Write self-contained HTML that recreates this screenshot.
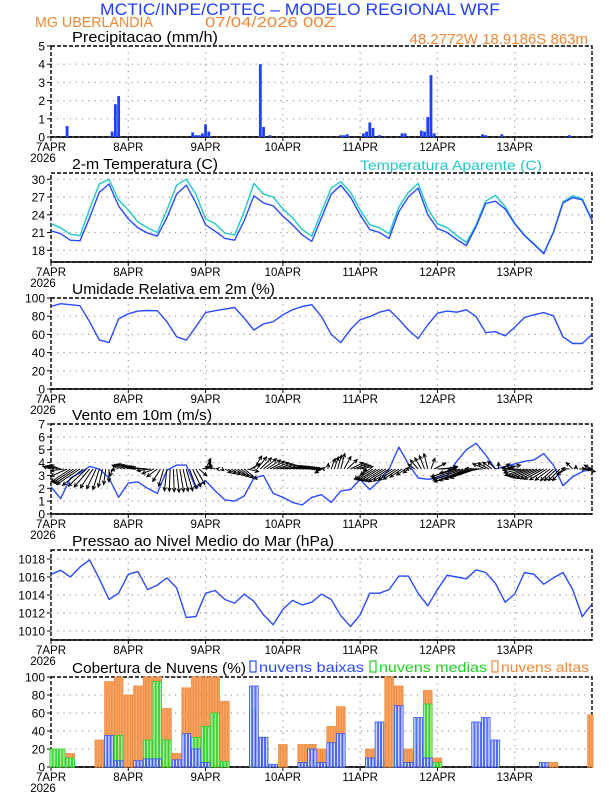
<!DOCTYPE html>
<html><head><meta charset="utf-8"><style>
html,body{margin:0;padding:0;background:#fff}
svg{display:block}
text{font-family:"Liberation Sans",sans-serif}
</style></head><body>
<svg id="chart" width="612" height="792" viewBox="0 0 612 792" xmlns="http://www.w3.org/2000/svg">
<text x="300" y="15" font-size="17" fill="#2040ff" text-anchor="middle" textLength="400" lengthAdjust="spacingAndGlyphs">MCTIC/INPE/CPTEC – MODELO REGIONAL WRF</text>
<text x="35" y="27" font-size="15" fill="#f08838" textLength="118" lengthAdjust="spacingAndGlyphs">MG UBERLANDIA</text>
<text x="205" y="27" font-size="15" fill="#f08838" textLength="130" lengthAdjust="spacingAndGlyphs">07/04/2026 00Z</text>
<text x="588" y="44" font-size="15" fill="#f08838" text-anchor="end">48.2772W 18.9186S 863m</text>
<text x="360" y="170" font-size="14" fill="#20c8c8" textLength="182" lengthAdjust="spacingAndGlyphs">Temperatura Aparente (C)</text>
<g id="plots"></g>
</svg>
<script>
const days=['7APR','8APR','9APR','10APR','11APR','12APR','13APR'];
const precipHours=[5,19,20,21,44,45,46,47,48,49,65,66,68,90,91,92,97,98,99,100,102,109,110,115,116,117,118,119,134,135,140,161];
const precipValues=[0.6,0.3,1.8,2.25,0.25,0.1,0.1,0.2,0.7,0.3,4.0,0.55,0.1,0.1,0.1,0.15,0.2,0.3,0.8,0.5,0.1,0.2,0.2,0.35,0.3,1.1,3.4,0.2,0.15,0.1,0.15,0.1];
const tempValues=[21.3,20.8,19.7,19.6,23.5,27.8,29.2,25.5,23.3,21.8,20.9,20.4,23.5,27.5,29.0,26.0,22.3,21.2,20.0,19.7,23.0,27.2,26.0,25.5,23.8,22.3,20.6,19.5,23.5,27.5,29.0,27.0,24.0,21.5,21.0,20.0,24.5,27.0,28.5,24.0,21.7,21.0,19.8,18.8,22.0,25.9,26.3,25.0,22.5,20.5,19.0,17.4,21.0,26.0,26.9,26.5,23.0];
const apparentValues=[22.5,21.8,20.7,20.5,25.0,29.2,30.0,26.5,24.8,22.8,21.8,21.0,24.8,29.0,30.0,27.5,23.3,22.5,20.9,20.6,24.5,29.3,27.5,27.0,25.0,23.5,21.5,20.4,24.5,28.5,29.6,27.8,24.8,22.3,21.8,20.8,25.3,27.8,29.3,25.0,22.5,21.8,20.5,19.3,22.3,26.3,27.3,25.4,22.6,20.6,19.1,17.5,21.1,26.2,27.2,26.7,23.1];
const humidityValues=[90.7,93.7,92.6,91.5,74,54,51,77,82.6,85.6,86.3,86,74,57.4,53.7,68.5,84,86,87.8,89.6,77.8,64.8,71.5,74,81.5,87,90.7,92.6,79.6,60,51,65.5,76,79.6,84.4,87,76.7,64.8,55.5,70.4,83.3,85.6,84.4,87,79.6,61.9,63,58.5,67.8,78.5,81.5,84,80.4,57.4,50,50,60];
const windSpeed=[2.1,1.2,2.8,3.2,3.7,3.5,2.8,1.3,2.4,2.5,2.0,1.6,3.4,3.8,3.8,2.0,2.6,1.8,1.1,1.0,1.4,2.8,3.0,1.6,1.3,0.9,0.7,1.3,1.5,0.9,1.8,1.9,2.7,1.9,2.6,3.5,5.2,3.9,2.8,2.7,2.8,3.0,4.1,5.0,5.5,4.6,3.5,3.7,3.9,4.1,4.2,4.7,3.8,2.2,2.9,3.3,3.5];
const windU=[-0.6,-0.8,-1.5,-1.8,-1.2,-0.5,0.0,-0.5,-0.8,-0.9,-1.2,-0.8,-0.2,0.2,0.5,0.7,0.4,-0.5,0.5,0.8,1.0,0.6,1.0,1.2,1.3,1.0,1.0,0.8,-0.5,0.3,0.3,1.0,1.0,-1.2,-1.5,-1.6,-1.2,-0.4,-0.6,-0.3,1.5,0.8,-2.0,-2.5,-2.0,-1.0,-0.6,1.2,-1.0,-1.5,-1.6,-1.5,-1.0,-0.8,-0.5,1.0,-0.6];
const windV=[0.2,0.3,-1.0,-1.2,-1.4,-1.6,-1.0,0.3,0.4,0.2,0.1,-0.6,-1.7,-1.8,-1.7,-1.2,0.8,0.2,-0.3,-0.5,-0.8,1.0,0.8,0.5,0.2,0.2,0.1,0.0,-0.3,0.8,1.2,0.5,0.2,-0.8,-0.9,-1.0,-0.8,-0.3,0.7,1.2,0.1,0.2,-0.6,-1.0,-0.7,0.4,0.6,0.3,0.1,-0.5,-0.7,-0.8,-0.9,-0.9,0.5,-0.2,0.3];
const pressureValues=[1016.3,1016.75,1016.0,1017.1,1017.9,1015.8,1013.5,1014.2,1016.3,1016.6,1014.6,1015.1,1015.9,1014.8,1011.5,1011.6,1014.2,1014.5,1013.5,1013.1,1014.1,1013.3,1011.8,1010.7,1012.4,1013.4,1012.9,1013.2,1014.1,1013.5,1011.7,1010.5,1011.8,1014.2,1014.2,1014.6,1016.1,1016.1,1014.2,1012.8,1014.6,1016.2,1016.0,1015.8,1016.8,1016.5,1015.3,1013.2,1014.1,1016.5,1016.3,1015.2,1015.9,1016.5,1014.6,1011.6,1013.0];
const cloudHigh=[0,10,15,0,0,30,95,100,80,90,100,100,65,15,88,100,100,100,73,0,0,60,33,0,25,0,25,25,20,45,67,0,0,20,0,100,90,20,25,85,10,0,0,0,0,0,0,0,0,0,0,0,5,0,0,0,58];
const cloudMid=[20,20,10,0,0,0,15,35,0,0,30,95,30,0,0,33,45,60,6,0,0,65,18,0,0,0,0,0,0,0,0,0,0,8,8,0,0,0,0,70,5,0,0,0,0,0,0,0,0,0,0,0,0,0,0,0,0];
const cloudLow=[0,0,0,0,0,0,35,7,0,7,9,9,0,8,37,20,5,0,0,0,0,90,33,3,0,0,5,20,5,27,37,0,0,10,50,0,68,5,55,10,0,0,0,0,50,55,30,0,0,0,0,5,0,0,0,0,0];

const NS='http://www.w3.org/2000/svg';
const root=document.getElementById('plots');
const X0=51,X1=592;
function xh(h){return X0+h*(X1-X0)/168;}
function mk(tag,attrs,parent){const e=document.createElementNS(NS,tag);for(const k in attrs)e.setAttribute(k,attrs[k]);(parent||root).appendChild(e);return e;}

function panel(name,top,bot,ymin,ymax,ticks,title,tlen){
  const g=mk('g',{});
  
  
  const y=v=>bot-(v-ymin)/(ymax-ymin)*(bot-top);
  for(const t of ticks){
    const gl=mk('line',{x1:X0,x2:X1,y1:y(t),y2:y(t),stroke:'#999','stroke-dasharray':'1.2,5','stroke-width':1.2},g);
    
    
    const tl=mk('text',{x:X0-6,y:y(t)+4.5,'font-size':12,'text-anchor':'end',fill:'#000'},g);
    tl.textContent=String(t);
    
    
    mk('line',{x1:X0-4,x2:X0,y1:y(t),y2:y(t),stroke:'#000','stroke-width':1},g);
  }
  for(let d=0;d<days.length;d++){
    const xx=xh(d*24);
    if(d>0){mk('line',{x1:xx,x2:xx,y1:top,y2:bot,stroke:'#999','stroke-dasharray':'1.2,5','stroke-width':1.2},g);}
    mk('line',{x1:xx,x2:xx,y1:bot,y2:bot+4,stroke:'#000','stroke-width':1},g);
    const lab=mk('text',{x:xx,y:bot+14,'font-size':11.5,'text-anchor':'middle',fill:'#000'},g);
    lab.textContent=days[d];
    
    
  }
  const yr=mk('text',{x:X0-8,y:bot+25,'font-size':11.5,'text-anchor':'middle',fill:'#000'},g);
  yr.textContent='2026';
  
  
  const fr=mk('rect',{x:X0,y:top,width:X1-X0,height:bot-top,fill:'none',stroke:'#000','stroke-width':1.4,'stroke-dasharray':'4,2'},g);
  
  
  mk('line',{x1:X0,x2:X1,y1:bot,y2:bot,stroke:'#000','stroke-width':1.6},g);
  const tt=mk('text',{x:72,y:top-4,'font-size':14.5,fill:'#000',textLength:tlen,lengthAdjust:'spacingAndGlyphs'},g);
  tt.textContent=title;
  
  
  return {g,y};
}
function line(p,vals,color,name){
  let d='';vals.forEach((v,i)=>{d+=(i?'L':'M')+xh(i*3).toFixed(1)+','+p.y(v).toFixed(1);});
  const e=mk('path',{d,fill:'none',stroke:color,'stroke-width':1.4,'stroke-linejoin':'round'},p.g);
  
  
}

const p1=panel('precip',46,137,0,5,[0,1,2,3,4,5],'Precipitacao (mm/h)',146);
precipHours.forEach((h,i)=>{
  const b=mk('rect',{x:xh(h)-1.4,y:p1.y(precipValues[i]),width:2.8,height:p1.y(0)-p1.y(precipValues[i]),fill:'#2040ff'},p1.g);
  
  
});
const p2=panel('temperature',173,262,16.02,31.06,[18,21,24,27,30],'2-m Temperatura (C)',146);
line(p2,apparentValues,'#20c8c8','apparent-temp-line');
line(p2,tempValues,'#2b4bff','temperature-line');
const p3=panel('humidity',298,389,0,100,[0,20,40,60,80,100],'Umidade Relativa em 2m (%)',203);
line(p3,humidityValues,'#2b4bff','humidity-line');
const p4=panel('wind',424,514,0,7,[0,1,2,3,4,5,6,7],'Vento em 10m (m/s)',140);
line(p4,windSpeed,'#2b4bff','wind-speed-line');
const unit=(p4.y(0)-p4.y(1));
for(let i=0;i<windU.length;i++){
  for(let k=0;k<3;k++){
    const h=i*3+k; if(h>168)break;
    const j=Math.min(i+(k?1:0),windU.length-1);
    const f=k/3;
    const u=windU[i]*(1-f)+windU[j]*f, v=windV[i]*(1-f)+windV[j]*f;
    const x1=xh(h),y1=p4.y(3.5),x2=x1+u*unit,y2=y1-v*unit;
    const a=mk('g',{},p4.g);
    
    
    mk('line',{x1,y1,x2,y2,stroke:'#000','stroke-width':1},a);
    const ang=Math.atan2(y2-y1,x2-x1),L=4;
    const hx1=x2-L*Math.cos(ang-0.45),hy1=y2-L*Math.sin(ang-0.45);
    const hx2=x2-L*Math.cos(ang+0.45),hy2=y2-L*Math.sin(ang+0.45);
    mk('path',{d:`M${hx1},${hy1}L${x2},${y2}L${hx2},${hy2}`,fill:'none',stroke:'#000','stroke-width':1},a);
  }
}
const p5=panel('pressure',550,640,1009,1019,[1010,1012,1014,1016,1018],'Pressao ao Nivel Medio do Mar (hPa)',262);
line(p5,pressureValues,'#2b4bff','pressure-line');
const p6=panel('clouds',677,767,0,100,[0,20,40,60,80,100],'Cobertura de Nuvens (%)',174);
function cloudBars(vals,fill,stroke,name){
  vals.forEach((v,i)=>{
    if(v<=0)return;
    for(let k=-1;k<=1;k++){
      const h=i*3+k; if(h<0||h>168)continue;
      const b=mk('rect',{x:xh(h)-1.1,y:p6.y(v),width:2.2,height:p6.y(0)-p6.y(v),fill,stroke,'stroke-width':0.8},p6.g);
      
      
    }
  });
}
cloudBars(cloudHigh,'#f4a060','#f08838','cloud-high-bar');
cloudBars(cloudMid,'#a8f0a8','#20d020','cloud-mid-bar');
cloudBars(cloudLow,'#d8e0ff','#2b4bff','cloud-low-bar');
const legend=[['nuvens baixas','#2b4bff',250,105],['nuvens medias','#20d020',370,108],['nuvens altas','#f08838',492,88]];
legend.forEach(([t,c,x,w])=>{
  const lg=mk('g',{},p6.g);
  
  
  mk('rect',{x:x,y:661,width:6,height:11,fill:'none',stroke:c,'stroke-width':1.2},lg);
  const tx=mk('text',{x:x+9,y:672,'font-size':14,fill:c,textLength:w,lengthAdjust:'spacingAndGlyphs'},lg);
  tx.textContent=t;
});
</script>
</body></html>
